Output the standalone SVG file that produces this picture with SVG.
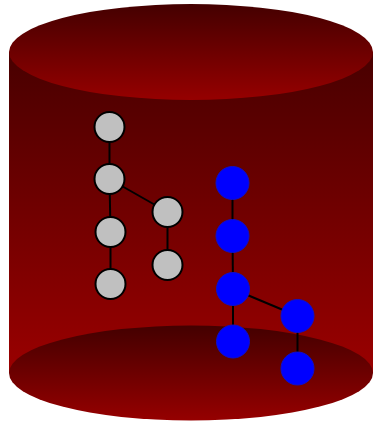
<svg xmlns="http://www.w3.org/2000/svg" width="373" height="424" viewBox="0 0 373 424">
  <defs>
    <linearGradient id="gBody" gradientUnits="userSpaceOnUse" x1="0" y1="52" x2="0" y2="373">
      <stop offset="0" stop-color="#480000"/>
      <stop offset="1" stop-color="#9a0000"/>
    </linearGradient>
    <linearGradient id="gTop" gradientUnits="userSpaceOnUse" x1="0" y1="4" x2="0" y2="100">
      <stop offset="0" stop-color="#440000"/>
      <stop offset="1" stop-color="#960000"/>
    </linearGradient>
    <linearGradient id="gBot" gradientUnits="userSpaceOnUse" x1="0" y1="326" x2="0" y2="421">
      <stop offset="0" stop-color="#440000"/>
      <stop offset="1" stop-color="#960000"/>
    </linearGradient>
  </defs>
  <style>
    .edge { stroke: #000; stroke-width: 2; }
    .gray { fill: #c0c0c0; stroke: #000; stroke-width: 2; }
    .blue { fill: #0000ff; stroke: #1010c8; stroke-width: 1; }
  </style>
  <g id="cylinder">
    <rect x="9" y="52" width="364" height="321" fill="url(#gBody)"/>
    <ellipse cx="191" cy="373" rx="182" ry="47.5" fill="url(#gBot)"/>
    <ellipse cx="191" cy="52" rx="182" ry="48" fill="url(#gTop)"/>
  </g>
  <g id="connectors">
    <line class="edge" x1="109.5" y1="127" x2="109.5" y2="179"/>
    <line class="edge" x1="109.5" y1="179" x2="110.5" y2="232"/>
    <line class="edge" x1="110.5" y1="232" x2="110.5" y2="284"/>
    <line class="edge" x1="109.5" y1="179" x2="167.5" y2="212"/>
    <line class="edge" x1="167.5" y1="212" x2="167.5" y2="265"/>
    <line class="edge" x1="232.5" y1="183" x2="232.5" y2="236"/>
    <line class="edge" x1="232.5" y1="236" x2="233" y2="289"/>
    <line class="edge" x1="233" y1="289" x2="233" y2="341.5"/>
    <line class="edge" x1="233" y1="289" x2="297.5" y2="316"/>
    <line class="edge" x1="297.5" y1="316" x2="297.5" y2="368.5"/>
  </g>
  <g id="g1"><circle class="gray" cx="109.5" cy="127" r="15"/></g>
  <g id="g2"><circle class="gray" cx="109.5" cy="179" r="15"/></g>
  <g id="g3"><circle class="gray" cx="110.5" cy="232" r="15"/></g>
  <g id="g4"><circle class="gray" cx="110.5" cy="284" r="15"/></g>
  <g id="g5"><circle class="gray" cx="167.5" cy="212" r="15"/></g>
  <g id="g6"><circle class="gray" cx="167.5" cy="265" r="15"/></g>
  <g id="b1"><circle class="blue" cx="232.5" cy="183" r="16.5"/></g>
  <g id="b2"><circle class="blue" cx="232.5" cy="236" r="16.5"/></g>
  <g id="b3"><circle class="blue" cx="233" cy="289" r="16.5"/></g>
  <g id="b4"><circle class="blue" cx="233" cy="341.5" r="16.5"/></g>
  <g id="b5"><circle class="blue" cx="297.5" cy="316" r="16.5"/></g>
  <g id="b6"><circle class="blue" cx="297.5" cy="368.5" r="16.5"/></g>
</svg>
